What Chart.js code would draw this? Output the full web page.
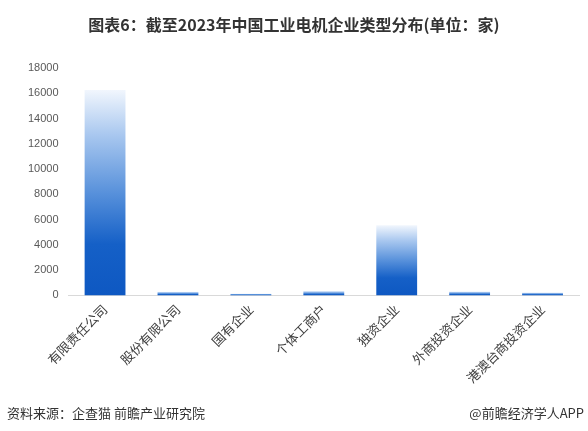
<!DOCTYPE html>
<html>
<head>
<meta charset="utf-8">
<script src="https://cdn.jsdelivr.net/npm/chart.js@4"></script>
<style>
  html, body { margin: 0; padding: 0; background: #fff; }
  body { width: 588px; height: 431px; position: relative; overflow: hidden;
         font-family: "Noto Sans CJK SC", "Liberation Sans", sans-serif; }
  #title { position: absolute; left: 0; top: 12px; width: 588px; text-align: center;
           font-size: 16px; font-weight: bold; color: #333; }
  #wrap { position: absolute; left: 0; top: 0; width: 588px; height: 431px; }
  .foot { position: absolute; top: 403px; font-size: 13px; color: #333; }
</style>
</head>
<body>
<div id="wrap"><canvas id="myChart"></canvas></div>
<div id="title">图表6：截至2023年中国工业电机企业类型分布(单位：家)</div>
<div class="foot" style="left:7px">资料来源：企查猫 前瞻产业研究院</div>
<div class="foot" style="right:4px">@前瞻经济学人APP</div>
<script>
const categories = ['有限责任公司', '股份有限公司', '国有企业', '个体工商户', '独资企业', '外商投资企业', '港澳台商投资企业'];
const counts = [16250, 300, 150, 350, 5550, 320, 240];
const y_max = 18000;
const y_step = 2000;

function barGradient(context) {
    const chart = context.chart;
    const y = chart.scales.y;
    if (!chart.chartArea || !y || context.parsed === undefined) return '#1059c4';
    const base = y.getPixelForValue(0);
    const top = y.getPixelForValue(context.parsed.y);
    if (!isFinite(base) || !isFinite(top) || base === top) return '#1059c4';
    const g = chart.ctx.createLinearGradient(0, base, 0, top);
    g.addColorStop(0, '#0e58c2');
    g.addColorStop(0.25, '#1560c7');
    g.addColorStop(0.5, '#5891db');
    g.addColorStop(0.78, '#a8c7ef');
    g.addColorStop(1, '#f1f6fd');
    return g;
}

const ctx = document.getElementById('myChart');
new Chart(ctx, {
    type: 'bar',
    data: {
        labels: categories,
        datasets: [{
            data: counts,
            backgroundColor: barGradient,
            categoryPercentage: 1,
            barPercentage: 0.56,
        }]
    },
    options: {
        responsive: true,
        maintainAspectRatio: false,
        animation: false,
        layout: { padding: { top: 68, left: 18, right: 9, bottom: 39 } },
        plugins: { legend: { display: false }, tooltip: { enabled: false } },
        scales: {
            x: {
                grid: { display: false, drawTicks: false },
                border: { color: '#d9d9d9' },
                ticks: {
                    color: '#404040',
                    font: { size: 13, family: "'Noto Sans CJK SC', sans-serif" },
                    minRotation: 45, maxRotation: 45, padding: 6,
                },
            },
            y: {
                min: 0, max: y_max,
                grid: { display: false, drawTicks: false },
                border: { display: false },
                ticks: {
                    stepSize: y_step,
                    color: '#595959',
                    padding: 10,
                    font: { size: 11, family: "'Liberation Sans', Arial, sans-serif" },
                    callback: (v) => String(v),
                },
            }
        }
    }
});
</script>
</body>
</html>
